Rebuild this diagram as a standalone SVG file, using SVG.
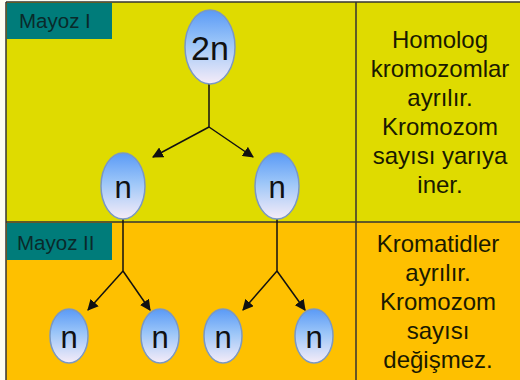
<svg xmlns="http://www.w3.org/2000/svg" width="520" height="380" viewBox="0 0 520 380">
<defs>
<linearGradient id="cell" x1="0" y1="0" x2="0" y2="1">
<stop offset="0" stop-color="#5a9af6"/>
<stop offset="0.45" stop-color="#9cc6f8"/>
<stop offset="1" stop-color="#f6ecf8"/>
</linearGradient>
<marker id="ah" viewBox="0 0 10 10" refX="9" refY="5" markerWidth="11" markerHeight="11" markerUnits="userSpaceOnUse" orient="auto">
<path d="M0,0 L10,5 L0,10 z" fill="#111"/>
</marker>
</defs>
<style>
.cell{fill:url(#cell);stroke:#7a98c4;stroke-width:1.5}
.lbl{font-family:"Liberation Sans",Arial,sans-serif;fill:#111;text-anchor:middle}
.big{font-size:34px}
.sm{font-size:31px}
.desc{font-family:"Liberation Sans",Arial,sans-serif;font-size:24px;fill:#1a1a00;text-anchor:middle}
.tag{font-family:"Liberation Sans",Arial,sans-serif;font-size:20.5px;fill:#0a2a2a}
.con{stroke:#111;stroke-width:1.5;fill:none}
</style>
<rect x="0" y="0" width="520" height="380" fill="#fdfdf2"/>
<g id="table">
<rect x="6" y="2" width="514" height="220" fill="#dfdb00"/>
<rect x="6" y="222" width="514" height="158" fill="#fec000"/>
<line x1="6" y1="2" x2="520" y2="2" stroke="#333" stroke-width="1.5"/>
<line x1="6" y1="2" x2="6" y2="380" stroke="#333" stroke-width="1.5"/>
<line x1="6" y1="222" x2="520" y2="222" stroke="#333" stroke-width="1.5"/>
<line x1="356" y1="2" x2="356" y2="380" stroke="#333" stroke-width="1.5"/>
</g>
<g id="mayoz1-tag">
<rect x="7" y="3" width="105" height="36" fill="#007c7a"/>
<text class="tag" x="19" y="28">Mayoz I</text>
</g>
<g id="mayoz2-tag">
<rect x="7" y="223" width="105" height="37" fill="#007c7a"/>
<text class="tag" x="17" y="250">Mayoz II</text>
</g>
<g id="connectors">
<polyline class="con" points="209,84 209,127"/>
<line class="con" x1="209" y1="127" x2="153" y2="157" marker-end="url(#ah)"/>
<line class="con" x1="209" y1="127" x2="253" y2="157" marker-end="url(#ah)"/>
<polyline class="con" points="123,219 123,271"/>
<line class="con" x1="123" y1="271" x2="88" y2="310" marker-end="url(#ah)"/>
<line class="con" x1="123" y1="271" x2="150" y2="310" marker-end="url(#ah)"/>
<polyline class="con" points="277,219 277,271"/>
<line class="con" x1="277" y1="271" x2="243" y2="310" marker-end="url(#ah)"/>
<line class="con" x1="277" y1="271" x2="305" y2="310" marker-end="url(#ah)"/>
</g>
<g id="n2n">
<ellipse class="cell" cx="210" cy="47" rx="25" ry="37"/>
<text class="lbl big" x="210" y="60">2n</text>
</g>
<g id="n1a">
<ellipse class="cell" cx="123" cy="186" rx="22" ry="33"/>
<text class="lbl sm" x="123" y="198">n</text>
</g>
<g id="n1b">
<ellipse class="cell" cx="277" cy="186" rx="22" ry="33"/>
<text class="lbl sm" x="277" y="198">n</text>
</g>
<g id="n2a">
<ellipse class="cell" cx="69" cy="336" rx="19" ry="27"/>
<text class="lbl sm" x="69" y="348">n</text>
</g>
<g id="n2b">
<ellipse class="cell" cx="160" cy="336" rx="19" ry="27"/>
<text class="lbl sm" x="160" y="348">n</text>
</g>
<g id="n2c">
<ellipse class="cell" cx="223" cy="336" rx="19" ry="27"/>
<text class="lbl sm" x="223" y="348">n</text>
</g>
<g id="n2d">
<ellipse class="cell" cx="314" cy="336" rx="19" ry="27"/>
<text class="lbl sm" x="314" y="348">n</text>
</g>
<g id="desc1">
<text class="desc" x="440" y="48">Homolog</text>
<text class="desc" x="440" y="77">kromozomlar</text>
<text class="desc" x="440" y="106">ayrılır.</text>
<text class="desc" x="440" y="135">Kromozom</text>
<text class="desc" x="440" y="164">sayısı yarıya</text>
<text class="desc" x="440" y="193">iner.</text>
</g>
<g id="desc2">
<text class="desc" x="438" y="252">Kromatidler</text>
<text class="desc" x="438" y="281">ayrılır.</text>
<text class="desc" x="438" y="310">Kromozom</text>
<text class="desc" x="438" y="339">sayısı</text>
<text class="desc" x="438" y="368">değişmez.</text>
</g>
</svg>
